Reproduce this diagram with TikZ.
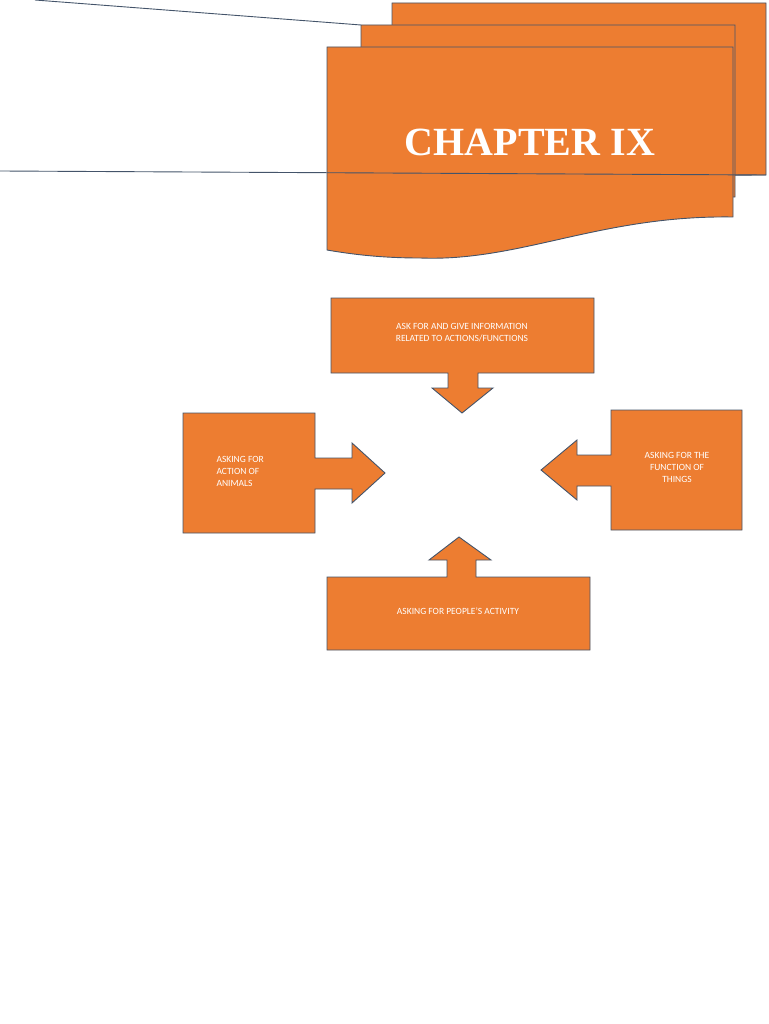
\documentclass[tikz,border=0pt]{standalone}
\usepackage{fontspec}
\setmainfont{Carlito}
\newfontfamily\titlefont{Liberation Serif}
\definecolor{org}{HTML}{ED7D31}
\definecolor{edg}{HTML}{44546A}
\begin{document}
\begin{tikzpicture}[x=1pt,y=-1pt,
  shp/.style={fill=org,draw=edg,line width=0.9pt,line join=miter},
  lbl/.style={text=white,font=\fontsize{9.5}{12}\selectfont,align=center},
  ln/.style={draw=edg,line width=0.9pt}]
\useasboundingbox (0,0) rectangle (768,1024);
% line behind
\coordinate (l1a) at (35,0); \coordinate (l1b) at (361,25);
\draw[ln] (l1a) -- (l1b);
% multidocument
\path[shp] (392,3) -- (766,3) -- (766,175) .. controls (700,175) and (640,178) .. (600,190) -- (392,190) -- cycle;
\path[shp] (361,25) -- (735,25) -- (735,197) .. controls (680,197) and (620,205) .. (580,210) -- (361,210) -- cycle;
\path[shp] (327,47) -- (733,47) -- (733,217) .. controls (600,215) and (520,262) .. (420,258) .. controls (380,258) and (350,254) .. (327,250) -- cycle;
\node[text=white,font=\titlefont\bfseries\fontsize{40}{44}\selectfont] (title) at (530,142) {CHAPTER IX};
\coordinate (l2a) at (0,171); \coordinate (l2b) at (766,175);
\draw[ln] (l2a) -- (l2b);
% callouts
\path[shp] (331,298) -- (594,298) -- (594,373) -- (478,373) -- (478,388) -- (493,388) -- (462,413) -- (432,388) -- (448,388) -- (448,373) -- (331,373) -- cycle;
\node[lbl] (top) at (462,333) {ASK FOR AND GIVE INFORMATION\\RELATED TO ACTIONS/FUNCTIONS};
\path[shp] (183,413) -- (315,413) -- (315,458) -- (352,458) -- (352,443) -- (385,473) -- (352,503) -- (352,489) -- (315,489) -- (315,533) -- (183,533) -- cycle;
\node[lbl,align=left,anchor=west] (left) at (213,471) {ASKING FOR\\ACTION OF\\ANIMALS};
\path[shp] (742,410) -- (611,410) -- (611,455) -- (577,455) -- (577,440) -- (541,470) -- (577,500) -- (577,486) -- (611,486) -- (611,530) -- (742,530) -- cycle;
\node[lbl] (right) at (677,467) {ASKING FOR THE\\FUNCTION OF\\THINGS};
\path[shp] (327,650) -- (590,650) -- (590,577) -- (476,577) -- (476,560) -- (491,560) -- (459,537) -- (429,560) -- (447,560) -- (447,577) -- (327,577) -- cycle;
\node[lbl] (bottom) at (458,611) {ASKING FOR PEOPLE'S ACTIVITY};
\end{tikzpicture}
\end{document}
